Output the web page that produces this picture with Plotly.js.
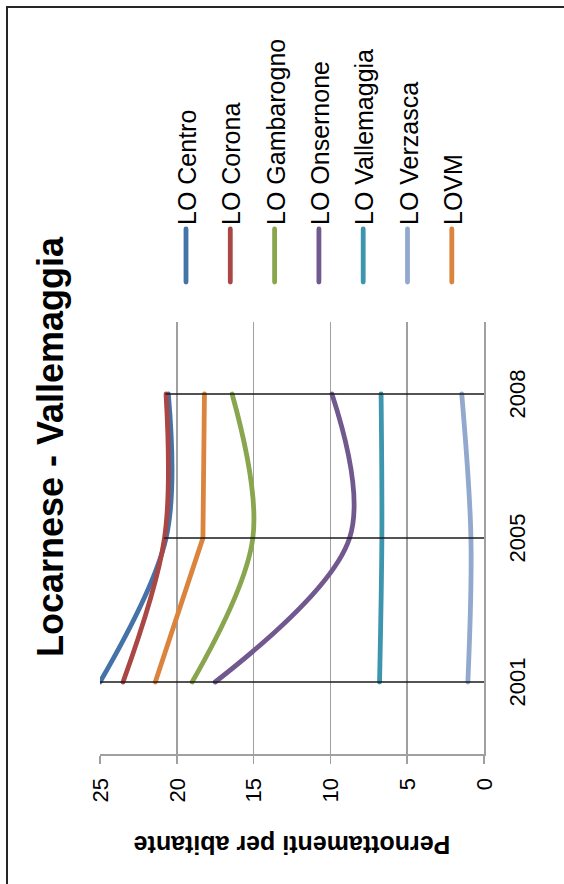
<!DOCTYPE html>
<html>
<head>
<meta charset="utf-8">
<script src="https://cdn.plot.ly/plotly-3.0.1.min.js"></script>
<style>
html, body { margin: 0; padding: 0; width: 564px; height: 884px; overflow: hidden; background: #fff; }
#plot { position: absolute; left: 0; top: 0; width: 884px; height: 564px; transform-origin: 0 0; transform: translate(0px, 884px) rotate(-90deg); }
#frame { position: absolute; left: 6px; top: 6px; width: 640px; height: 940px; border: 2px solid #262626; pointer-events: none; }
#plot .scatterlayer .js-line, #plot .shapelayer path { stroke-linecap: round; }
</style>
</head>
<body>
<div id="plot"></div>
<div id="frame"></div>
<script>
// Data
const years = ['2001', '2005', '2008'];
const seriesNames = ['LO Centro', 'LO Corona', 'LO Gambarogno', 'LO Onsernone', 'LO Vallemaggia', 'LO Verzasca', 'LOVM'];
const loCentro      = [25.0, 20.7, 20.55];
const loCorona      = [23.5, 20.8, 20.7];
const loGambarogno  = [19.0, 15.05, 16.4];
const loOnsernone   = [17.5, 8.75, 9.9];
const loVallemaggia = [6.8, 6.65, 6.7];
const loVerzasca    = [1.05, 0.85, 1.45];
const lovm          = [21.4, 18.3, 18.2];
const valueTicks = [0, 5, 10, 15, 20, 25];

const allValues = [loCentro, loCorona, loGambarogno, loOnsernone, loVallemaggia, loVerzasca, lovm];
const colors = ['#4572A7', '#AA4643', '#89A54E', '#71588F', '#3D96AE', '#92A8CD', '#DB843D'];
const smoothed = [true, true, true, true, true, true, false];

const FONT = 'Liberation Sans, Arial, sans-serif';
const LINE_W = 4.8;

const traces = allValues.map((vals, i) => ({
  type: 'scatter',
  mode: 'lines',
  x: years,
  y: vals,
  name: seriesNames[i],
  showlegend: false,
  line: smoothed[i]
    ? { color: colors[i], width: LINE_W, shape: 'spline', smoothing: 1 }
    : { color: colors[i], width: LINE_W, shape: 'linear' },
  hoverinfo: 'skip'
}));

// drop lines: from the highest series value at each year down to 0
const dropX = [], dropY = [];
years.forEach((yr, j) => {
  const mx = Math.max(...allValues.map(s => s[j]));
  dropX.push(yr, yr, null);
  dropY.push(mx, 0, null);
});
traces.push({
  type: 'scatter', mode: 'lines', x: dropX, y: dropY,
  line: { color: '#1a1a1a', width: 1.6 }, showlegend: false, hoverinfo: 'skip', connectgaps: false
});

// Legend (Excel style: long line sample + label), placed in paper coordinates
const M = { l: 130, r: 322, t: 100, b: 80 };
const PW = 884 - M.l - M.r, PH = 564 - M.t - M.b;
const px2paperX = X => (X - M.l) / PW;
const px2paperY = Y => (564 - M.b - Y) / PH;
const LEG_TOP = 186, LEG_STEP = 44.3, LEG_LINE_X0 = 602, LEG_LINE_X1 = 655, LEG_TEXT_X = 657;
const legendShapes = seriesNames.map((n, i) => ({
  type: 'line', xref: 'paper', yref: 'paper',
  x0: px2paperX(LEG_LINE_X0), x1: px2paperX(LEG_LINE_X1),
  y0: px2paperY(LEG_TOP + i * LEG_STEP), y1: px2paperY(LEG_TOP + i * LEG_STEP),
  line: { color: colors[i], width: LINE_W }
}));
const legendLabels = seriesNames.map((n, i) => ({
  text: n, xref: 'paper', yref: 'paper', showarrow: false,
  x: px2paperX(LEG_TEXT_X), xanchor: 'left',
  y: px2paperY(LEG_TOP + i * LEG_STEP + 1), yanchor: 'middle',
  font: { family: FONT, size: 25, color: '#000' }
}));

const layout = {
  width: 884, height: 564,
  margin: M,
  paper_bgcolor: '#ffffff', plot_bgcolor: '#ffffff',
  font: { family: FONT, color: '#000000', size: 22 },
  title: {
    text: 'Locarnese - Vallemaggia',
    font: { family: FONT, size: 36, weight: 'bold', color: '#000000' },
    xref: 'container', x: 437 / 884, xanchor: 'center',
    yref: 'container', y: 1 - 50 / 564, yanchor: 'middle'
  },
  xaxis: {
    type: 'category', categoryorder: 'array', categoryarray: years,
    range: [-0.5, 2.5],
    showgrid: false, zeroline: false,
    showline: true, linecolor: '#a0a0a0', linewidth: 1.5,
    ticks: '', tickfont: { family: FONT, size: 22, color: '#000' },
    ticklabelstandoff: 13,
    fixedrange: true
  },
  yaxis: {
    range: [0, 25], tickvals: valueTicks, ticktext: valueTicks.map(String),
    showgrid: true, gridcolor: '#a0a0a0', gridwidth: 1.5,
    zeroline: false,
    showline: true, linecolor: '#a0a0a0', linewidth: 1.5,
    ticks: 'outside', ticklen: 8, tickcolor: '#a0a0a0', tickwidth: 1.5,
    tickfont: { family: FONT, size: 22, color: '#000' },
    ticklabelstandoff: 10,
    title: { text: 'Pernottamenti per abitante', font: { family: FONT, size: 25, weight: 'bold', color: '#000' }, standoff: 26 },
    fixedrange: true
  },
  showlegend: false,
  shapes: legendShapes,
  annotations: legendLabels
};

Plotly.newPlot('plot', traces, layout, { displayModeBar: false, staticPlot: true });
</script>
</body>
</html>
